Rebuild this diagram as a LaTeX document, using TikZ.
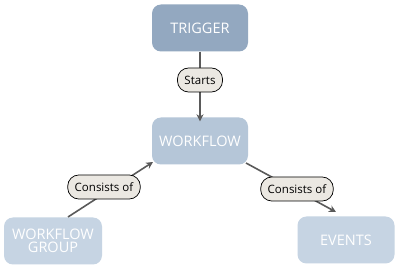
\documentclass[tikz,border=0pt]{standalone}
\usepackage{fontspec}
\setmainfont{Open Sans}
\usetikzlibrary{arrows.meta}
\definecolor{trig}{HTML}{93A8C0}
\definecolor{wf}{HTML}{B5C6D8}
\definecolor{leaf}{HTML}{C6D4E3}
\definecolor{pill}{HTML}{EBE8E2}
\definecolor{edge}{HTML}{5A5A5A}
\tikzset{
  concept/.style={rounded corners=9pt, minimum width=96pt, minimum height=47pt, text=white, font=\fontsize{14.5}{16}\selectfont, align=center, inner sep=0pt},
  linkl/.style={draw=black, fill=pill, rounded corners=11pt, line width=0.7pt, font=\fontsize{11.5}{13}\selectfont, inner xsep=7pt, inner ysep=0pt, minimum height=24pt},
  conn/.style={draw=edge, line width=1.6pt, -{Stealth[length=7pt,width=7pt]}}
}
\begin{document}
\begin{tikzpicture}[x=1pt,y=-1pt]
\useasboundingbox (0,0) rectangle (400,270);
\fill[white] (0,0) rectangle (400,270);
\node[concept, fill=trig] (trigger) at (200,28) {TRIGGER};
\node[concept, fill=wf] (workflow) at (200,141) {WORKFLOW};
\node[concept, fill=leaf, minimum width=98pt] (group) at (53,241) {WORKFLOW\\[-3pt]GROUP};
\node[concept, fill=leaf, minimum width=97pt] (events) at (346,240) {EVENTS};
\coordinate (gtop) at (68,217);
\coordinate (wfl) at (153,162);
\coordinate (wfr) at (246,163);
\coordinate (evtop) at (336,212);
\draw[conn] (trigger.south) -- ([yshift=-4pt]workflow.north);
\draw[conn] (gtop) -- (wfl);
\draw[conn] (wfr) -- (evtop);
\node[linkl] (starts) at (200,80) {Starts};
\node[linkl] (cl) at (104,187) {Consists of};
\node[linkl] (cr) at (297,189) {Consists of};
\end{tikzpicture}
\end{document}
